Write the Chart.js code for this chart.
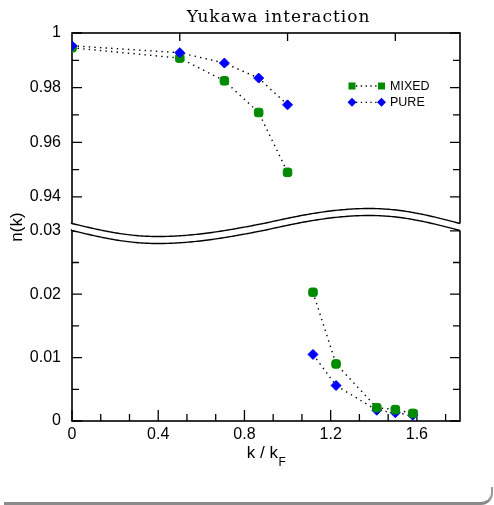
<!DOCTYPE html>
<html>
<head>
<meta charset="utf-8">
<script src="https://cdn.jsdelivr.net/npm/chart.js@4.4.1/dist/chart.umd.min.js"></script>
<style>
  html, body { margin: 0; padding: 0; background: #fff; }
  #wrap { position: relative; width: 494px; height: 505px; overflow: hidden; }
  #myChart { display: block; }
  /* grey page edge at the bottom right of the picture */
  #edge { position: absolute; left: 4px; width: 487px; top: 487px; height: 15px;
          border-bottom: 3px solid #8a8a8a; border-right: 2px solid #9a9a9a;
          border-bottom-right-radius: 12px; }
</style>
</head>
<body>
<div id="wrap">
  <canvas id="myChart" width="494" height="505" style="width:494px;height:505px"></canvas>
  <div id="edge"></div>
</div>
<script>
// data
const chartTitle = 'Yukawa interaction';
const kUpper = [0, 0.5, 0.707, 0.866, 1.0];          // k / kF, points above the break
const kLower = [1.118, 1.225, 1.414, 1.5, 1.581];    // k / kF, points below the break
const mixedUpper = [0.9946, 0.9908, 0.9825, 0.9709, 0.9490];
const pureUpper  = [0.9953, 0.9928, 0.9890, 0.9835, 0.9737];
const mixedLower = [0.0203, 0.0090, 0.0021, 0.0018, 0.0012];
const pureLower  = [0.0105, 0.0056, 0.0017, 0.0013, 0.0009];

// tick values and labels
const xMajor = [0, 0.4, 0.8, 1.2, 1.6];
const xMajorLabels = ['0', '0.4', '0.8', '1.2', '1.6'];
const xMinor = [0.1333, 0.2667, 0.5333, 0.6667, 0.9333, 1.0667, 1.3333, 1.4667, 1.7333];
const xTop = [0.5, 1.0, 1.5];
const yUpMajor = [0.94, 0.96, 0.98, 1.0];
const yUpLabels = ['0.94', '0.96', '0.98', '1'];
const yUpMinor = [0.95, 0.97, 0.99];
const yLowMajor = [0, 0.01, 0.02, 0.03];
const yLowLabels = ['0', '0.01', '0.02', '0.03'];
const yLowMinor = [0.005, 0.015, 0.025];

const GREEN = '#008a00';
const BLUE = '#0000ff';
const SANS = '"Liberation Sans", Arial, sans-serif';

function pts(xs, ys) {
  return xs.map((x, i) => ({ x: x, y: ys[i] }));
}

function series(label, xs, ys, yAxis, color, style, radius, order) {
  return {
    label: label,
    data: pts(xs, ys),
    yAxisID: yAxis,
    showLine: true,
    borderColor: '#000',
    borderWidth: 1.4,
    borderDash: [1.4, 4.2],
    pointStyle: style,
    pointRadius: radius,
    pointBackgroundColor: color,
    pointBorderColor: color,
    pointBorderWidth: 1,
    order: order,
    legendColor: color
  };
}

// frame, inward ticks, axis break, legend, titles
const decor = {
  id: 'decor',
  beforeDatasetsDraw(chart) {
    const ctx = chart.ctx;
    const ca = chart.chartArea;
    const x = chart.scales.x, yu = chart.scales.yUp, yl = chart.scales.yLow;
    ctx.save();
    ctx.strokeStyle = '#000';
    ctx.lineWidth = 1.6;
    ctx.strokeRect(ca.left, ca.top, ca.right - ca.left, ca.bottom - ca.top);
    ctx.lineWidth = 1.3;
    ctx.beginPath();
    function yTicks(scale, vals, len) {
      vals.forEach(v => {
        const p = scale.getPixelForValue(v);
        ctx.moveTo(ca.left, p); ctx.lineTo(ca.left + len, p);
        ctx.moveTo(ca.right, p); ctx.lineTo(ca.right - len, p);
      });
    }
    yTicks(yu, yUpMajor, 10);
    yTicks(yu, yUpMinor, 7);
    yTicks(yl, yLowMajor, 10);
    yTicks(yl, yLowMinor, 7);
    xMajor.forEach(v => { const p = x.getPixelForValue(v); ctx.moveTo(p, ca.bottom); ctx.lineTo(p, ca.bottom - 11); });
    xMinor.forEach(v => { const p = x.getPixelForValue(v); ctx.moveTo(p, ca.bottom); ctx.lineTo(p, ca.bottom - 7); });
    xTop.forEach(v => { const p = x.getPixelForValue(v); ctx.moveTo(p, ca.top); ctx.lineTo(p, ca.top + 8); });
    ctx.stroke();
    ctx.restore();
  },
  afterDraw(chart) {
    const ctx = chart.ctx;
    const ca = chart.chartArea;
    const yu = chart.scales.yUp;
    const L = ca.left, R = ca.right, B = yu.bottom, W = R - L;
    // wavy break between the two panels
    function yc(px) {
      const f = (px - L) / W;
      let ph;
      if (f < 0.219) ph = f / 0.219 * Math.PI / 2;
      else if (f < 0.768) ph = Math.PI / 2 + (f - 0.219) / (0.768 - 0.219) * Math.PI;
      else ph = 1.5 * Math.PI + (f - 0.768) / (1 - 0.768) * Math.PI / 2;
      const s = Math.sin(ph);
      return B + (s > 0 ? 13 : 15) * s;
    }
    const h = 3.5;
    ctx.save();
    ctx.fillStyle = '#fff';
    ctx.beginPath();
    ctx.moveTo(L - 3, yc(L) - h);
    for (let px = L; px <= R; px += 2) ctx.lineTo(px, yc(px) - h);
    ctx.lineTo(R + 2, yc(R) - h);
    ctx.lineTo(R + 2, yc(R) + h);
    for (let px = R; px >= L; px -= 2) ctx.lineTo(px, yc(px) + h);
    ctx.lineTo(L - 3, yc(L) + h);
    ctx.closePath();
    ctx.fill();
    ctx.strokeStyle = '#000';
    ctx.lineWidth = 1.4;
    [-h, h].forEach(off => {
      ctx.beginPath();
      ctx.moveTo(L - 1, yc(L) + off - 1);
      for (let px = L; px <= R; px += 2) ctx.lineTo(px, yc(px) + off);
      ctx.lineTo(R, yc(R) + off);
      ctx.stroke();
    });

    // legend, one row per series (taken from the upper datasets)
    ctx.font = '12.5px ' + SANS;
    ctx.textBaseline = 'middle';
    ctx.textAlign = 'left';
    let row = 0;
    chart.data.datasets.forEach(ds => {
      if (ds.yAxisID !== 'yUp') return;
      const ly = 86 + row * 16.3;
      const x1 = 352, x2 = 381.5;
      ctx.strokeStyle = '#000';
      ctx.lineWidth = 1.3;
      ctx.setLineDash([1.3, 3.5]);
      ctx.beginPath(); ctx.moveTo(x1 + 4, ly); ctx.lineTo(x2 - 4, ly); ctx.stroke();
      ctx.setLineDash([]);
      ctx.fillStyle = ds.legendColor;
      [x1, x2].forEach(mx => {
        if (ds.pointStyle === 'rectRot') {
          ctx.beginPath();
          ctx.moveTo(mx, ly - 4.5); ctx.lineTo(mx + 4.5, ly); ctx.lineTo(mx, ly + 4.5); ctx.lineTo(mx - 4.5, ly);
          ctx.closePath(); ctx.fill();
        } else {
          ctx.fillRect(mx - 3.5, ly - 3.5, 7, 7);
        }
      });
      ctx.fillStyle = '#000';
      ctx.fillText(ds.label, 390, ly + 0.5);
      row++;
    });

    // title
    ctx.fillStyle = '#000';
    ctx.font = '17px "DejaVu Serif", serif';
    ctx.textAlign = 'center';
    ctx.textBaseline = 'alphabetic';
    if ('letterSpacing' in ctx) ctx.letterSpacing = '1px';
    ctx.fillText(chartTitle, 278.5, 22);
    if ('letterSpacing' in ctx) ctx.letterSpacing = '0px';

    // y title
    ctx.save();
    ctx.font = '17px ' + SANS;
    ctx.translate(22, (ca.top + ca.bottom) / 2);
    ctx.rotate(-Math.PI / 2);
    ctx.textAlign = 'center';
    ctx.fillText('n(k)', 0, 0);
    ctx.restore();

    // x title with subscript
    ctx.font = '17px ' + SANS;
    const main = 'k / k';
    const wMain = ctx.measureText(main).width;
    ctx.font = '12px ' + SANS;
    const wSub = ctx.measureText('F').width;
    const sx = 266 - (wMain + wSub) / 2;
    ctx.textAlign = 'left';
    ctx.font = '17px ' + SANS;
    ctx.fillText(main, sx, 458);
    ctx.font = '12px ' + SANS;
    ctx.fillText('F', sx + wMain + 0.5, 466);
    ctx.restore();
  }
};

const tickFont = { family: SANS, size: 16 };

const myChart = new Chart('myChart', {
  type: 'scatter',
  data: {
    datasets: [
      series('MIXED', kUpper, mixedUpper, 'yUp', GREEN, 'rectRounded', 5, 1),
      series('PURE', kUpper, pureUpper, 'yUp', BLUE, 'rectRot', 5, 0),
      series('MIXED', kLower, mixedLower, 'yLow', GREEN, 'rectRounded', 5, 0),
      series('PURE', kLower, pureLower, 'yLow', BLUE, 'rectRot', 5, 1)
    ]
  },
  options: {
    responsive: false,
    animation: false,
    layout: { padding: { left: 0, right: 34, top: 33, bottom: 0 } },
    plugins: { legend: { display: false }, tooltip: { enabled: false }, title: { display: false } },
    scales: {
      x: {
        type: 'linear', min: 0, max: 1.8,
        grid: { display: false, drawTicks: false }, border: { display: false },
        afterBuildTicks: s => { s.ticks = xMajor.map(v => ({ value: v })); },
        afterFit: s => { s.height = 84; },
        ticks: { callback: (v, i) => xMajorLabels[i], font: tickFont, color: '#000', padding: 4, maxRotation: 0, autoSkip: false }
      },
      yLow: {
        type: 'linear', position: 'left', stack: 'ys', stackWeight: 1, min: 0, max: 0.0306,
        grid: { display: false, drawTicks: false }, border: { display: false },
        afterBuildTicks: s => { s.ticks = yLowMajor.map(v => ({ value: v })); },
        afterFit: s => { s.width = 72; },
        ticks: { callback: (v, i) => yLowLabels[i], font: tickFont, color: '#000', padding: 11, autoSkip: false }
      },
      yUp: {
        type: 'linear', position: 'left', stack: 'ys', stackWeight: 1, min: 0.929, max: 1.0,
        grid: { display: false, drawTicks: false }, border: { display: false },
        afterBuildTicks: s => { s.ticks = yUpMajor.map(v => ({ value: v })); },
        afterFit: s => { s.width = 72; },
        ticks: { callback: (v, i) => yUpLabels[i], font: tickFont, color: '#000', padding: 11, autoSkip: false }
      }
    }
  },
  plugins: [decor]
});
</script>
</body>
</html>
